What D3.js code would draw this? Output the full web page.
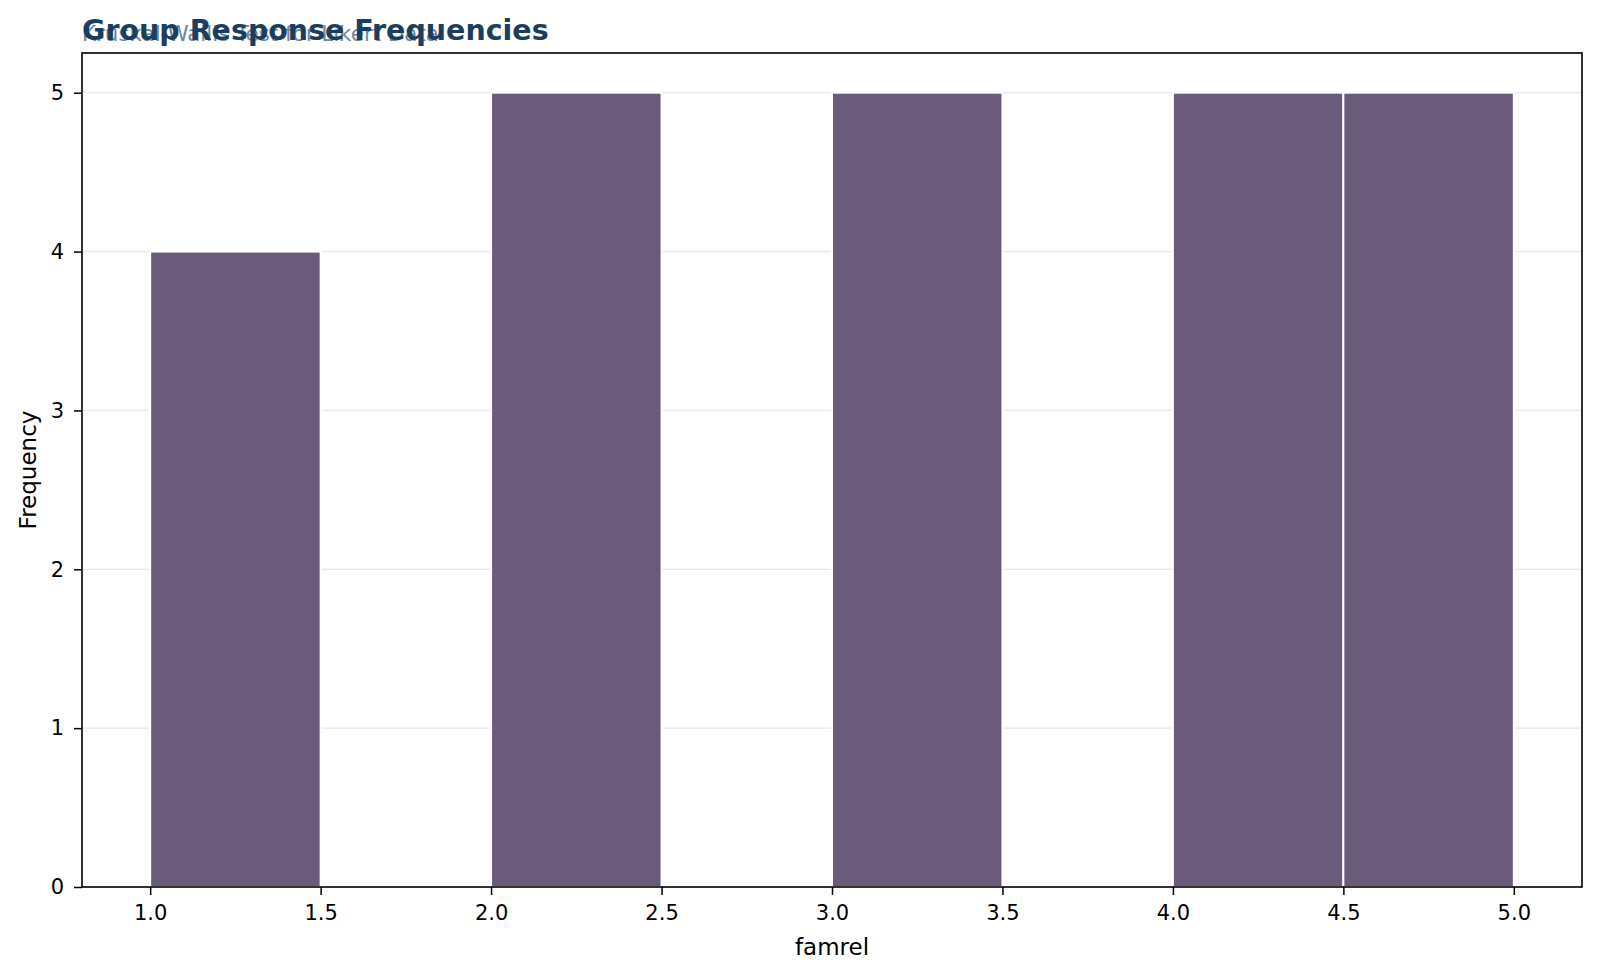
<!DOCTYPE html>
<html>
<head>
<meta charset="utf-8">
<script src="https://cdn.jsdelivr.net/npm/d3@7"></script>
<style>
  body { margin: 0; background: #fff; }
  svg text { font-family: "DejaVu Sans", sans-serif; }
</style>
</head>
<body>
<div id="chart"></div>
<script>
// histogram bins (famrel), width 0.5
const binStarts = [1.0, 1.5, 2.0, 2.5, 3.0, 3.5, 4.0, 4.5];
const binWidth = 0.5;
const counts = [4, 0, 5, 0, 5, 0, 5, 5];
const xTicks = [1.0, 1.5, 2.0, 2.5, 3.0, 3.5, 4.0, 4.5, 5.0];
const yTicks = [0, 1, 2, 3, 4, 5];

const width = 1600, height = 977;
const margin = {top: 53, right: 18, bottom: 90, left: 82};

const svg = d3.select("#chart").append("svg")
    .attr("width", width)
    .attr("height", height);

const x = d3.scaleLinear().domain([0.8, 5.2]).range([margin.left, width - margin.right]);
const y = d3.scaleLinear().domain([0, 5.25]).range([height - margin.bottom, margin.top]);

// grid
svg.append("g")
    .selectAll("line")
    .data(yTicks)
    .join("line")
    .attr("x1", margin.left)
    .attr("x2", width - margin.right)
    .attr("y1", d => y(d))
    .attr("y2", d => y(d))
    .attr("stroke", "#e8e8e8")
    .attr("stroke-width", 1.3);

// bars
svg.append("g")
    .selectAll("rect")
    .data(binStarts.map((s, i) => ({start: s, count: counts[i]})).filter(d => d.count > 0))
    .join("rect")
    .attr("x", d => x(d.start))
    .attr("width", d => x(d.start + binWidth) - x(d.start))
    .attr("y", d => y(d.count))
    .attr("height", d => y(0) - y(d.count))
    .attr("fill", "#6b5b7b")
    .attr("stroke", "#ffffff")
    .attr("stroke-width", 2);

// axes
const xAxis = svg.append("g")
    .attr("transform", `translate(0,${height - margin.bottom})`)
    .call(d3.axisBottom(x).tickValues(xTicks).tickFormat(d3.format(".1f")).tickSizeOuter(0).tickSize(8).tickPadding(10));
const yAxis = svg.append("g")
    .attr("transform", `translate(${margin.left},0)`)
    .call(d3.axisLeft(y).tickValues(yTicks).tickFormat(d3.format("d")).tickSizeOuter(0).tickSize(8).tickPadding(10));

[xAxis, yAxis].forEach(a => {
    a.selectAll("text").attr("font-size", 21).attr("fill", "#000").attr("font-family", "DejaVu Sans");
    a.selectAll("line").attr("stroke", "#000").attr("stroke-width", 1.5);
    a.select(".domain").remove();
});

// frame
svg.append("rect")
    .attr("x", margin.left)
    .attr("y", margin.top)
    .attr("width", width - margin.right - margin.left)
    .attr("height", height - margin.bottom - margin.top)
    .attr("fill", "none")
    .attr("stroke", "#000")
    .attr("stroke-width", 1.6);

// labels
svg.append("text")
    .attr("x", (margin.left + width - margin.right) / 2)
    .attr("y", 955)
    .attr("text-anchor", "middle")
    .attr("font-size", 23)
    .text("famrel");

svg.append("text")
    .attr("transform", `translate(36,${(margin.top + height - margin.bottom) / 2}) rotate(-90)`)
    .attr("text-anchor", "middle")
    .attr("font-size", 23)
    .text("Frequency");

// subtitle underneath, then title on top
svg.append("text")
    .attr("x", 82)
    .attr("y", 41)
    .attr("font-size", 21.4)
    .attr("fill", "#4a6a88")
    .attr("opacity", 0.8)
    .text("Kruskal-Wallis Test for Likert Data");

svg.append("text")
    .attr("x", 82)
    .attr("y", 40)
    .attr("font-size", 28.5)
    .attr("font-weight", "bold")
    .attr("fill", "#1b3d5e")
    .text("Group Response Frequencies");
</script>
</body>
</html>
